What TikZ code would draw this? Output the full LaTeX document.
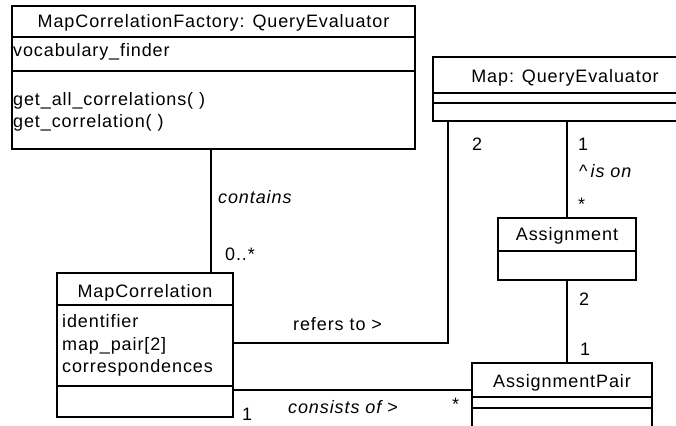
\documentclass[tikz,border=0pt]{standalone}
\usepackage{fontspec}
\setmainfont{Liberation Sans}[LetterSpace=5]
\begin{document}
\begin{tikzpicture}[x=1pt,y=-1pt,
  umlbox/.style={draw,line width=1.2pt,rectangle,inner sep=0pt,outer sep=0pt},
  conn/.style={draw,line width=1.2pt},
  sep/.style={line width=1.2pt},
  txt/.style={anchor=base west,inner sep=0pt,font=\fontsize{18}{21}\selectfont},
  ttl/.style={anchor=base,inner sep=0pt,font=\fontsize{18}{21}\selectfont},
  itl/.style={txt,font=\fontsize{18}{21}\selectfont\itshape}]
\useasboundingbox (0,0) rectangle (676,425);
\fill[white] (0,0) rectangle (676,425);
\clip (0,0) rectangle (676,425);
% class boxes
\node[umlbox,minimum width=403,minimum height=143] (fac) at (213.5,77.5) {};
\node[umlbox,minimum width=264,minimum height=64] (map) at (565,89) {};
\node[umlbox,minimum width=138,minimum height=62] (asg) at (567,249) {};
\node[umlbox,minimum width=180,minimum height=64] (ap) at (562,395) {};
\node[umlbox,minimum width=176,minimum height=144] (mc) at (145,345) {};
% compartment helpers
\coordinate (fy1) at (0,37); \coordinate (fy2) at (0,71);
\coordinate (my1) at (0,93); \coordinate (my2) at (0,103);
\coordinate (ay1) at (0,251);
\coordinate (py1) at (0,397); \coordinate (py2) at (0,408);
\coordinate (cy1) at (0,305); \coordinate (cy2) at (0,386);
\draw[sep] (fac.west |- fy1) -- (fac.east |- fy1);
\draw[sep] (fac.west |- fy2) -- (fac.east |- fy2);
\draw[sep] (map.west |- my1) -- (map.east |- my1);
\draw[sep] (map.west |- my2) -- (map.east |- my2);
\draw[sep] (asg.west |- ay1) -- (asg.east |- ay1);
\draw[sep] (ap.west |- py1) -- (ap.east |- py1);
\draw[sep] (ap.west |- py2) -- (ap.east |- py2);
\draw[sep] (mc.west |- cy1) -- (mc.east |- cy1);
\draw[sep] (mc.west |- cy2) -- (mc.east |- cy2);
% texts
\node[ttl] (facT) at (213.5,27.5) {MapCorrelationFactory: QueryEvaluator};
\node[txt] (facA) at (13,57) {vocabulary\_finder};
\node[txt] (facM1) at (13,106) {get\_all\_correlations( )};
\node[txt] (facM2) at (13,127) {get\_correlation( )};
\node[ttl] (mapT) at (565,83) {Map: QueryEvaluator};
\node[ttl] (asgT) at (567,240) {Assignment};
\node[ttl] (apT) at (562,387) {AssignmentPair};
\node[ttl] (mcT) at (145,297) {MapCorrelation};
\node[txt] (mcA1) at (62,327) {identifier};
\node[txt] (mcA2) at (62,350) {map\_pair[2]};
\node[txt] (mcA3) at (62,372) {correspondences};
% connectors
\coordinate (xA) at (211,0);
\coordinate (xB) at (448,0);
\coordinate (yB) at (0,343);
\coordinate (yC) at (0,390);
\draw[conn] (fac.south -| xA) -- (mc.north -| xA);
\draw[conn] (map.south -| xB) |- (mc.east |- yB);
\draw[conn] (map.south -| asg.north) -- (asg.north);
\draw[conn] (asg.south) -- (ap.north -| asg.south);
\draw[conn] (mc.east |- yC) -- (ap.west |- yC);
% labels
\node[itl] (lContains) at (218,203) {contains};
\node[txt] (lMany1) at (225,260) {0..*};
\node[txt] (lTwo1) at (472,150) {2};
\node[txt] (lOne1) at (578,150) {1};
\node[txt] (lIsOn) at (579,177) {\textasciicircum\,\textit{is on}};
\node[txt] (lStar1) at (578,210) {*};
\node[txt] (lTwo2) at (579,305) {2};
\node[txt] (lOne2) at (580,355) {1};
\node[txt] (lRefers) at (293,330) {refers to \textgreater};
\node[itl] (lConsists) at (288,413) {consists of \textgreater};
\node[txt] (lStar2) at (452,410) {*};
\node[txt] (lOne3) at (242,420) {1};
\end{tikzpicture}
\end{document}
